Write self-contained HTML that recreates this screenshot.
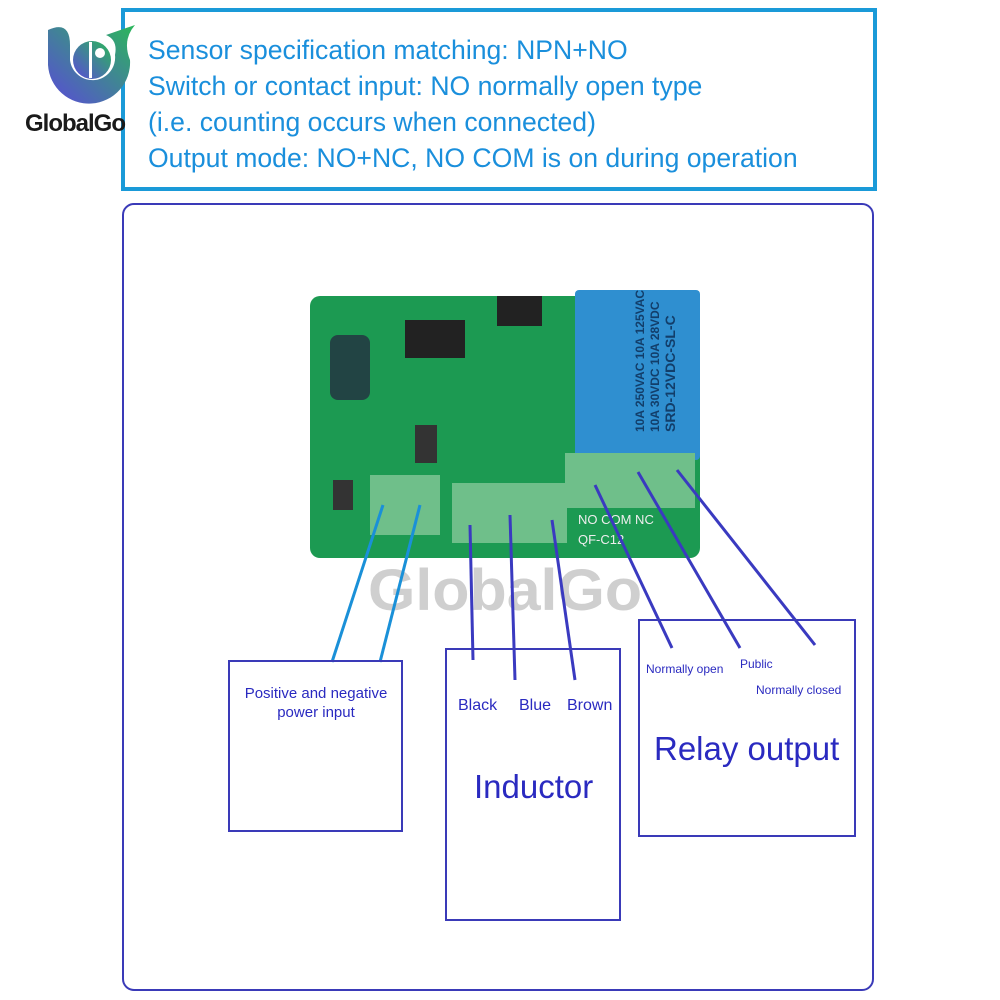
<!DOCTYPE html><html><head><style>
body{margin:0;width:1000px;height:1000px;background:#fff;position:relative;overflow:hidden;font-family:"Liberation Sans",sans-serif}
.a{position:absolute}
.box{position:absolute;border:2px solid #3a3ab8;box-sizing:border-box}
.lbl{position:absolute;color:#2a2ac0;white-space:nowrap}
</style></head><body>
<div class="a" style="left:121px;top:8px;width:756px;height:183px;border:4px solid #1a9ad8;box-sizing:border-box"></div>
<div class="a" style="left:148px;top:32px;color:#1a8fdc;font-size:27px;line-height:36px;transform:scaleX(0.985);transform-origin:left;white-space:nowrap">Sensor specification matching: NPN+NO<br>Switch or contact input: NO normally open type<br>(i.e. counting occurs when connected)<br>Output mode: NO+NC, NO COM is on during operation</div>
<svg class="a" style="left:40px;top:15px" width="100" height="100"><defs><linearGradient id="g" x1="0" y1="1" x2="1" y2="0"><stop offset="0" stop-color="#5a4ad8"/><stop offset="1" stop-color="#2ab85a"/></linearGradient></defs>
<path d="M8 15 Q30 5 30 30 L30 45 A22 22 0 1 0 75 40 Q78 25 66 20 L95 10 Q82 25 90 45 A40 40 0 1 1 8 50 Z" fill="url(#g)"/><circle cx="52" cy="45" r="19" fill="url(#g)"/><circle cx="60" cy="38" r="5" fill="#fff"/><rect x="49" y="27" width="3" height="36" fill="#fff"/></svg>
<div class="a" style="left:25px;top:110px;font-size:24px;font-weight:bold;color:#1a1a1a;letter-spacing:-1px">GlobalGo</div>
<div class="box" style="left:122px;top:203px;width:752px;height:788px;border-radius:12px"></div>
<!-- board -->
<div class="a" style="left:310px;top:296px;width:390px;height:262px;background:#1c9a52;border-radius:10px"></div>
<div class="a" style="left:575px;top:290px;width:125px;height:170px;background:#2f8fd0;border-radius:4px"></div>
<div class="a" style="left:633px;top:432px;color:#123e6a;font-size:12px;font-weight:bold;transform:rotate(-90deg);transform-origin:left top;line-height:15px;white-space:nowrap">10A 250VAC 10A 125VAC<br>10A 30VDC 10A 28VDC<br><span style="font-size:14px">SRD-12VDC-SL-C</span></div>
<div class="a" style="left:565px;top:453px;width:130px;height:55px;background:#6fbf8a"></div>
<div class="a" style="left:370px;top:475px;width:70px;height:60px;background:#6fbf8a"></div>
<div class="a" style="left:452px;top:483px;width:115px;height:60px;background:#6fbf8a"></div>
<div class="a" style="left:405px;top:320px;width:60px;height:38px;background:#222"></div>
<div class="a" style="left:497px;top:296px;width:45px;height:30px;background:#222"></div>
<div class="a" style="left:330px;top:335px;width:40px;height:65px;background:#244;border-radius:8px"></div>
<div class="a" style="left:415px;top:425px;width:22px;height:38px;background:#333"></div>
<div class="a" style="left:333px;top:480px;width:20px;height:30px;background:#333"></div>
<div class="a" style="left:578px;top:512px;color:#eee;font-size:13px">NO COM NC</div>
<div class="a" style="left:578px;top:532px;color:#eee;font-size:13px">QF-C12</div>
<div class="a" style="left:368px;top:557px;font-size:58px;font-weight:bold;color:rgba(160,160,160,0.5);transform:scaleX(1.05);transform-origin:left">GlobalGo</div>
<svg class="a" style="left:0;top:0" width="1000" height="1000">
<g stroke="#1a90d8" stroke-width="3"><line x1="383" y1="505" x2="332" y2="662"/><line x1="420" y1="505" x2="380" y2="662"/></g>
<g stroke="#3a3ac0" stroke-width="3"><line x1="470" y1="525" x2="473" y2="660"/><line x1="510" y1="515" x2="515" y2="680"/><line x1="552" y1="520" x2="575" y2="680"/><line x1="595" y1="485" x2="672" y2="648"/><line x1="638" y1="472" x2="740" y2="648"/><line x1="677" y1="470" x2="815" y2="645"/></g>
</svg>
<div class="box" style="left:228px;top:660px;width:175px;height:172px"></div>
<div class="lbl" style="left:236px;top:684px;font-size:15px;text-align:center;width:160px;line-height:19px">Positive and negative<br>power input</div>
<div class="box" style="left:445px;top:648px;width:176px;height:273px"></div>
<div class="lbl" style="left:458px;top:697px;font-size:16px">Black</div>
<div class="lbl" style="left:519px;top:697px;font-size:16px">Blue</div>
<div class="lbl" style="left:567px;top:697px;font-size:16px">Brown</div>
<div class="lbl" style="left:474px;top:768px;font-size:33px">Inductor</div>
<div class="box" style="left:638px;top:619px;width:218px;height:218px"></div>
<div class="lbl" style="left:646px;top:662px;font-size:12px">Normally open</div>
<div class="lbl" style="left:740px;top:657px;font-size:12px">Public</div>
<div class="lbl" style="left:756px;top:683px;font-size:12px">Normally closed</div>
<div class="lbl" style="left:654px;top:730px;font-size:33px">Relay output</div>
</body></html>
